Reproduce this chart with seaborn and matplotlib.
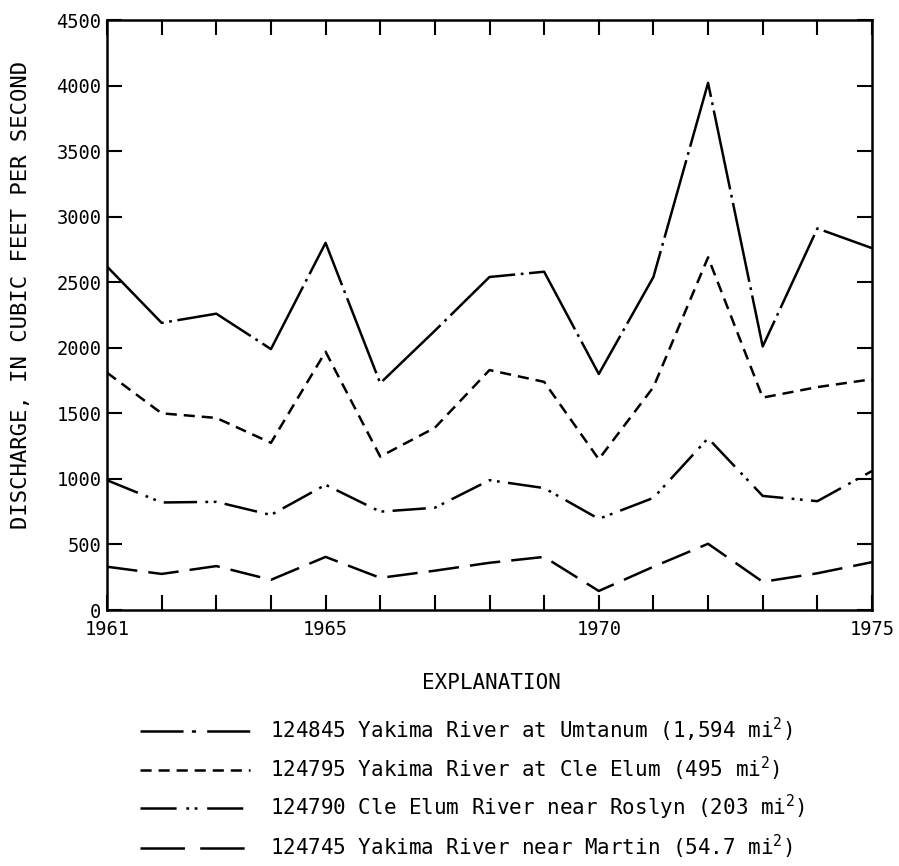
import matplotlib
matplotlib.use("Agg")
import matplotlib.pyplot as plt
import matplotlib.ticker as mticker
import seaborn as sns
import pandas as pd

years = list(range(1961, 1976))
umtanum = [2620, 2190, 2260, 1990, 2800, 1730, 2130, 2540, 2580, 1800, 2540, 4020, 2010, 2910, 2760]
cle_elum = [1810, 1500, 1465, 1275, 1970, 1170, 1390, 1830, 1740, 1150, 1700, 2690, 1620, 1700, 1760]
roslyn = [990, 820, 825, 725, 955, 750, 780, 990, 930, 695, 855, 1310, 870, 830, 1060]
martin = [330, 275, 335, 230, 405, 245, 300, 360, 405, 145, 330, 505, 215, 280, 365]

labels = [
    "124845 Yakima River at Umtanum (1,594 mi$^2$)",
    "124795 Yakima River at Cle Elum (495 mi$^2$)",
    "124790 Cle Elum River near Roslyn (203 mi$^2$)",
    "124745 Yakima River near Martin (54.7 mi$^2$)",
]
series = [umtanum, cle_elum, roslyn, martin]
x_tick_labels = {1961: "1961", 1965: "1965", 1970: "1970", 1975: "1975"}
y_ticks = list(range(0, 4501, 500))

rows = []
for lab, vals in zip(labels, series):
    for yr, v in zip(years, vals):
        rows.append({"year": yr, "q": v, "station": lab})
df = pd.DataFrame(rows)

sns.set_theme(style="white")
plt.rcParams["font.family"] = ["DejaVu Sans Mono", "DejaVu Sans"]
plt.rcParams["mathtext.default"] = "regular"
plt.rcParams["lines.scale_dashes"] = False
plt.rcParams["text.color"] = "black"
plt.rcParams["axes.labelcolor"] = "black"

fig = plt.figure(figsize=(8.99, 8.66), dpi=100)
ax = fig.add_axes([107/899, 1-610/866, (872-107)/899, (610-20)/866])

chart_dashes = {
    labels[0]: (58, 4, 2, 4),
    labels[1]: (8, 5),
    labels[2]: (24, 6, 2, 4, 2, 6),
    labels[3]: (22, 8),
}
sns.lineplot(data=df, x="year", y="q", style="station", style_order=labels,
             dashes=chart_dashes, color="black", linewidth=1.8, ax=ax, legend=True)

ax.set_xlim(1961, 1975)
ax.set_ylim(0, 4500)
ax.xaxis.set_major_locator(mticker.FixedLocator(years))
ax.xaxis.set_major_formatter(mticker.FuncFormatter(lambda v, p: x_tick_labels.get(int(round(v)), "")))
ax.yaxis.set_major_locator(mticker.FixedLocator(y_ticks))
ax.set_xlabel("")
ax.set_ylabel("")
ax.tick_params(axis="both", direction="in", length=11, width=1.5, color="black",
               labelsize=13.5, labelcolor="black", top=True, right=True,
               bottom=True, left=True)
ax.tick_params(axis="x", pad=7)
ax.tick_params(axis="y", pad=4)
for s in ax.spines.values():
    s.set_color("black")
    s.set_linewidth(1.8)
    s.set_visible(True)

fig.text(21/899, 1-295/866, "DISCHARGE, IN CUBIC FEET PER SECOND", rotation=90,
         ha="center", va="center", fontsize=16, color="black")
fig.text(491/899, 1-683/866, "EXPLANATION", ha="center", va="center",
         fontsize=15, color="black")

handles, labs = ax.get_legend_handles_labels()
ax.get_legend().remove()
leg = fig.legend(handles, labs, loc="upper left",
                 bbox_to_anchor=(140/899, 1-716/866), bbox_transform=fig.transFigure,
                 frameon=False, fontsize=15, handlelength=5.3, handletextpad=0.95,
                 labelspacing=0.5, borderpad=0, borderaxespad=0)
for t in leg.get_texts():
    t.set_color("black")
legend_dashes = [(31, 6, 3, 8), (8, 5), (26, 7, 2, 4, 2, 7), (32, 11)]
for ln, d in zip(leg.get_lines(), legend_dashes):
    ln.set_dashes(d)
    ln.set_linewidth(1.8)
    ln.set_color("black")

fig.savefig("out.png", dpi=100)
